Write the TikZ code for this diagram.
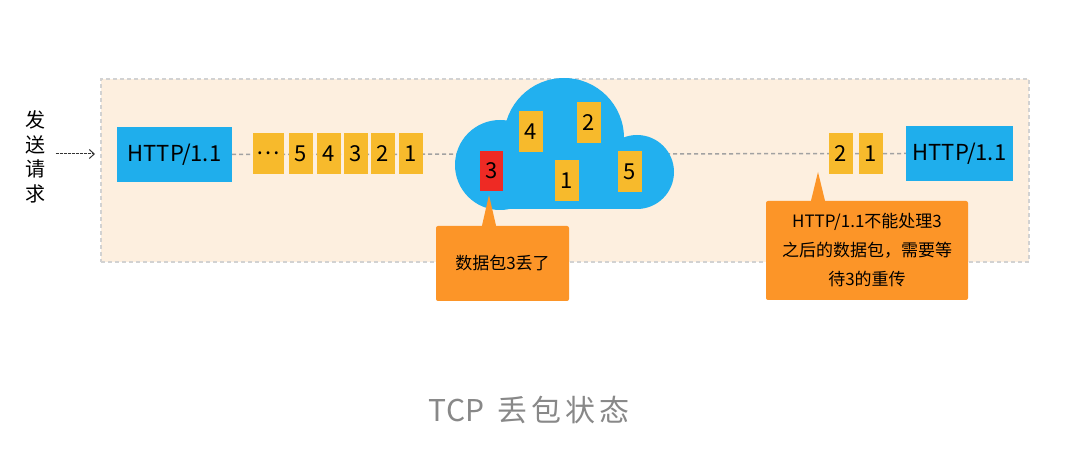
\documentclass[tikz,border=0pt]{standalone}
\usepackage{fontspec}
\newfontfamily\cjk{Noto Sans CJK SC}
\usetikzlibrary{arrows.meta,calc}
\definecolor{panelbg}{HTML}{FDEFDF}
\definecolor{httpblue}{HTML}{1FAEEC}
\definecolor{cloudblue}{HTML}{22B0EF}
\definecolor{pktyellow}{HTML}{F7BA2C}
\definecolor{lostred}{HTML}{EE2A24}
\definecolor{noteorange}{HTML}{FC9528}
\definecolor{captiongray}{HTML}{888888}
\definecolor{wiregray}{HTML}{A2A2A2}

\begin{document}
\begin{tikzpicture}[x=1pt,y=-1pt,
  every node/.style={font=\cjk},
  panel/.style={fill=panelbg,draw=gray!35,line width=1.2pt,dash pattern=on 4pt off 3pt},
  http/.style={fill=httpblue,minimum height=55pt,inner sep=0pt,font=\cjk\fontsize{22}{24}\selectfont},
  pkt/.style={fill=pktyellow,minimum width=24pt,minimum height=41pt,inner sep=0pt,font=\cjk\fontsize{22}{24}\selectfont},
  note/.style={fill=noteorange,rounded corners=2pt,inner sep=0pt,align=center,font=\cjk\fontsize{17}{29}\selectfont},
  wire/.style={wiregray,line width=1.5pt,dash pattern=on 4pt off 3pt},
  sendarrow/.style={gray!40!black,line width=1pt,dash pattern=on 3pt off 1pt,-{Straight Barb[length=5pt,width=9pt]}}]
\useasboundingbox (0,0) rectangle (1088,454);

% panel
\path (565,170.5) node (panel) [panel,minimum width=928pt,minimum height=183pt] {};

% sender side
\path (35,157) node (req) [align=center,font=\cjk\fontsize{20}{24.5}\selectfont] {发\\送\\请\\求};
\coordinate (arrowend) at (95,154);
\draw [sendarrow] ($(req.east)+(7,-3)$) -- (arrowend);

\path (174.5,154.5) node (httpL) [http,minimum width=115pt] {HTTP/1.1};
\path (959.5,153.5) node (httpR) [http,minimum width=107pt] {HTTP/1.1};
\draw [wire] (httpL.east) -- (httpR.west);

% queued packets
\path (268.5,153.5) node (pdots) [pkt,minimum width=31pt] {…};
\path (300.5,153.5) node (p5) [pkt] {5};
\path (329,153.5) node (p4) [pkt] {4};
\path (355.5,153.5) node (p3) [pkt] {3};
\path (382.5,153.5) node (p2) [pkt] {2};
\path (411,153.5) node (p1) [pkt] {1};

% network cloud
\fill [cloudblue] (500,165) circle (45pt) (564,138) circle (60pt) (637,172) circle (37pt);
\fill [cloudblue] (500,165) rectangle (637,209);
\path (491.5,171) node (c3) [pkt,fill=lostred,minimum width=23pt,minimum height=40pt] {3};
\path (531,132) node (c4) [pkt] {4};
\path (589,122.5) node (c2) [pkt] {2};
\path (567,181) node (c1) [pkt] {1};
\path (630,172) node (c5) [pkt] {5};

% received packets
\path (841,154) node (r2) [pkt] {2};
\path (871,154) node (r1) [pkt] {1};

% notes
\path (502.5,263.5) node (lostnote) [note,minimum width=133pt,minimum height=75pt] {数据包3丢了};
\coordinate (tipA) at (489,195);
\fill [noteorange] ($(tipA |- lostnote.north)+(-7.5,2)$) -- (tipA) -- ($(tipA |- lostnote.north)+(7.5,2)$) -- cycle;

\path (867,250.5) node (waitnote) [note,minimum width=202pt,minimum height=99pt] {HTTP/1.1不能处理3\\之后的数据包，需要等\\待3的重传};
\coordinate (tipB) at (818,172);
\fill [noteorange] ($(tipB |- waitnote.north)+(-7.5,2)$) -- (tipB) -- ($(tipB |- waitnote.north)+(7.5,2)$) -- cycle;

% caption
\path (529,410) node (caption) [text=captiongray,font=\cjk\fontsize{30}{34}\selectfont] {TCP\hspace{13pt}丢\hspace{4pt}包\hspace{4pt}状\hspace{4pt}态};
\end{tikzpicture}
\end{document}
